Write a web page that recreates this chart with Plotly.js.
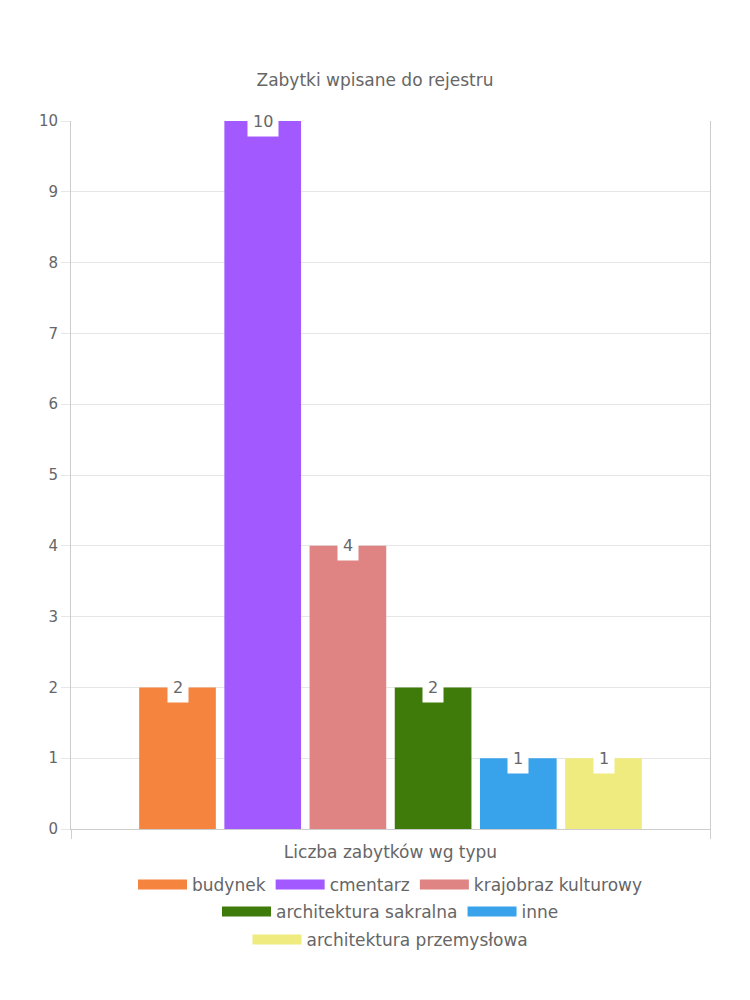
<!DOCTYPE html>
<html>
<head>
<meta charset="utf-8">
<script src="https://cdn.plot.ly/plotly-3.0.1.min.js"></script>
<style>html,body{margin:0;padding:0;background:#fff}#chart{width:750px;height:1000px}</style>
</head>
<body>
<div id="chart"></div>
<script>
const categories = ["budynek", "cmentarz", "krajobraz kulturowy", "architektura sakralna", "inne", "architektura przemysłowa"];
const values = [2, 10, 4, 2, 1, 1];
const colors = ["#F5843F", "#A259FF", "#E08383", "#3E7B0B", "#38A3EB", "#F0EB7E"];
const legendRows = ["legend", "legend", "legend", "legend2", "legend2", "legend3"];
const yTicks = [0, 1, 2, 3, 4, 5, 6, 7, 8, 9, 10];
const groupLabel = "Liczba zabytków wg typu";

const FONT = "DejaVu Sans, sans-serif";
const GREY = "#666666";
const BARGAP = 0.2;
const n = categories.length;

const barTraces = categories.map((c, i) => ({
  type: "bar",
  name: c,
  x: [0],
  y: [values[i]],
  marker: {color: colors[i]},
  showlegend: false,
  hoverinfo: "name+y"
}));

// legend-only swatches
const legendTraces = categories.map((c, i) => ({
  type: "scatter",
  mode: "lines",
  name: c,
  x: [null],
  y: [null],
  line: {color: colors[i], width: 17},
  legend: legendRows[i],
  showlegend: true,
  hoverinfo: "skip"
}));

const annotations = categories.map((c, i) => ({
  x: (i - (n - 1) / 2) * (1 - BARGAP) / n,
  y: values[i],
  xref: "x", yref: "y",
  text: String(values[i]),
  showarrow: false,
  xanchor: "center", yanchor: "middle",
  bgcolor: "#ffffff",
  borderpad: 5,
  font: {family: FONT, size: 16, color: GREY}
}));

function legendAt(py) {
  return {
    orientation: "h", x: 0.5, xanchor: "center",
    y: (829 - py) / 708, yanchor: "middle",
    itemwidth: 49, itemclick: false, itemdoubleclick: false,
    font: {family: FONT, size: 17, color: GREY}, traceorder: "normal",
    bgcolor: "rgba(0,0,0,0)"
  };
}

const layout = {
  width: 750, height: 1000,
  paper_bgcolor: "#fff", plot_bgcolor: "#fff",
  margin: {l: 71, r: 40, t: 121, b: 171},
  font: {family: FONT, color: GREY, size: 16},
  title: {text: "Zabytki wpisane do rejestru", x: 0.5, xanchor: "center", y: 1 - 80 / 1000, yanchor: "middle", font: {family: FONT, size: 17, color: GREY}},
  barmode: "group",
  bargap: BARGAP,
  bargroupgap: 0.1,
  showlegend: true,
  legend: legendAt(885),
  legend2: legendAt(912),
  legend3: legendAt(940),
  xaxis: {
    type: "linear", range: [-0.5, 0.5], fixedrange: true,
    tickvals: [-0.5, 0.5], showticklabels: false,
    ticks: "outside", ticklen: 9, tickcolor: "#d0d0d0",
    showgrid: false, zeroline: false,
    showline: true, linecolor: "#cccccc", mirror: false,
    title: {text: groupLabel, standoff: 8, font: {family: FONT, size: 17, color: GREY}}
  },
  yaxis: {
    range: [0, 10], tickvals: yTicks, fixedrange: true,
    ticks: "outside", ticklen: 9, tickcolor: "#e6e6e6",
    gridcolor: "#e6e6e6", zeroline: false,
    showline: true, linecolor: "#cccccc", mirror: true,
    tickfont: {family: FONT, size: 15, color: GREY}
  },
  annotations: annotations
};

Plotly.newPlot("chart", barTraces.concat(legendTraces), layout, {displayModeBar: false, staticPlot: true});
</script>
</body>
</html>
